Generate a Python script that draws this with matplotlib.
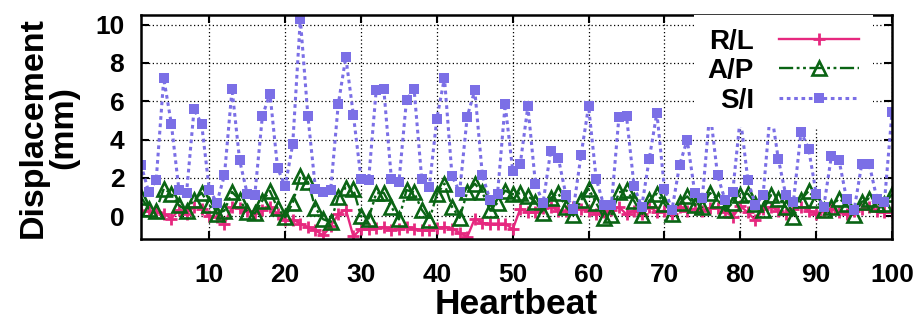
import matplotlib
matplotlib.use('Agg')
import matplotlib.pyplot as plt
import numpy as np

plt.rcParams['font.family'] = ['Liberation Sans', 'DejaVu Sans']
plt.rcParams['font.weight'] = 'bold'

# heartbeat index 1..100
beats = np.arange(1, 101)

# displacement values (mm)
rl = [0.3, 0.3, 0.25, 0.14, -0.12, 0.35, 0.14, 0.49, 0.4, 0.0,
      -0.04, -0.38, 0.49, 0.45, 0.3, 0.17, 0.35, 0.49, 0.14, -0.21,
      -0.17, -0.38, -0.56, -0.73, -1.0, -0.52, 0.1, 0.35, -1.05, -0.65,
      -0.65, -0.6, -0.56, -0.7, -0.64, -0.56, -0.64, -0.73, -0.73, -0.6,
      -0.56, -0.64, -0.87, -1.08, -0.12, -0.35, -0.38, -0.38, -0.38, -0.68,
      0.4, 0.22, 0.2, 0.45, 0.49, 0.3, 0.3, 0.49, 0.4, 0.3,
      0.14, 0.2, 0.35, 0.49, 0.1, 0.3, 0.14, 0.49, 0.22, 0.3,
      0.14, 0.49, 0.3, 0.4, 0.3, 0.45, 0.45, 0.25, -0.04, 0.53,
      0.2, -0.21, 0.4, 0.49, 0.3, 0.14, 0.4, 0.49, 0.3, 0.14,
      0.3, 0.4, 0.2, 0.14, 0.3, 0.4, 0.49, 0.3, 0.2, 0.25]

ap = [1.0, 0.4, 0.3, 1.44, 1.18, 0.57, 0.3, 0.87, 1.22, 0.57,
      0.14, 0.3, 1.27, 0.85, 0.25, 0.15, 0.82, 1.32, 0.42, -0.05,
      0.7, 2.1, 1.8, 0.42, -0.15, -0.3, 1.0, 1.5, 1.4, 0.0,
      -0.12, 1.2, 1.22, 0.49, -0.16, 1.37, 1.25, 0.35, -0.21, 1.15,
      1.7, 0.49, -0.08, 1.27, 1.7, 1.25, 0.33, 0.7, 1.34, 1.15,
      1.2, 1.05, 0.75, 0.17, 0.96, 1.2, 0.49, 0.05, 0.83, 1.44,
      0.7, -0.08, 0.05, 1.25, 1.35, 0.8, 0.07, 0.83, 1.18, 0.66,
      0.14, 0.7, 1.04, 0.57, 0.49, 1.22, 0.87, 0.31, 0.7, 1.1,
      1.18, 0.66, 0.31, 1.1, 0.92, 0.49, -0.04, 0.87, 1.32, 0.83,
      0.31, 0.49, 0.92, 0.63, 0.05, 0.75, 0.92, 0.63, 0.66, 1.15]

si = [2.7, 1.28, 1.88, 7.2, 4.82, 1.38, 1.21, 5.6, 4.79, 1.38,
      0.72, 2.14, 6.64, 2.92, 1.18, 1.1, 5.23, 6.4, 2.53, 1.56,
      3.76, 10.3, 5.23, 1.42, 1.27, 1.36, 5.84, 8.3, 5.27, 1.97,
      1.88, 6.57, 6.66, 1.97, 1.79, 6.09, 6.62, 1.97, 1.53, 5.1,
      7.22, 2.09, 1.27, 5.2, 6.57, 2.14, 0.87, 1.18, 5.84, 2.38,
      2.75, 5.74, 1.68, 0.7, 3.4, 3.06, 1.13, 0.4, 3.18, 5.74,
      1.97, 0.57, 0.57, 5.18, 5.23, 1.56, 0.49, 3.0, 5.4, 1.44,
      0.35, 2.68, 4.0, 1.22, 0.98, 5.53, 2.14, 0.83, 1.27, 5.18,
      1.88, 0.57, 1.1, 5.67, 3.01, 1.1, 0.75, 4.4, 3.53, 1.18,
      0.49, 3.13, 2.96, 0.92, 0.31, 2.71, 2.71, 0.92, 0.75, 5.44]

fig = plt.figure(figsize=(9.24, 3.31), dpi=100)
ax = fig.add_axes([0.1526, 0.277, 0.8128, 0.6777])

ax.plot(beats, rl, color='#e6287f', lw=1.7, ls='-', marker='+',
        ms=9, mew=2.0, label='R/L')
ax.plot(beats, ap, color='#0a6414', lw=1.7, ls=(0, (6, 1.5, 1.2, 1.5, 1.2, 1.5)),
        marker='^', ms=10, mew=1.9, mfc='none', label='A/P')
ax.plot(beats, si, color='#7b6fe6', lw=2.2, ls=(0, (1.2, 1.2)), marker='s',
        ms=6.5, mew=0, label='S/I')

ax.set_xlim(1, 100)
ax.set_ylim(-1.2, 10.5)
ax.set_xticks(np.arange(10, 101, 10))
ax.set_yticks(np.arange(0, 11, 2))
ax.grid(True, color='black', lw=0.9, ls=(0, (1, 2)))
ax.set_axisbelow(True)
ax.tick_params(direction='in', length=6, width=1.5, top=True, right=True,
               labelsize=19)
ax.tick_params(axis='x', pad=17)
ax.tick_params(axis='y', pad=12)
for s in ax.spines.values():
    s.set_linewidth(1.8)

ax.set_xlabel('Heartbeat', fontsize=25.5, fontweight='bold', labelpad=1)
ax.set_ylabel('Displacement\n(mm)', fontsize=24.5, fontweight='bold',
              linespacing=1.0)
ax.yaxis.set_label_coords(-0.082, 0.5)

leg = ax.legend(loc='upper right', bbox_to_anchor=(0.975, 1.0), borderaxespad=0,
                fontsize=20, markerfirst=False, handlelength=2.9,
                handletextpad=0.9, labelspacing=0.12, borderpad=0.5,
                fancybox=False, framealpha=1, facecolor='white', edgecolor='none')
for t in leg.get_texts():
    t.set_ha('right')

fig.savefig('out.png', dpi=100)
